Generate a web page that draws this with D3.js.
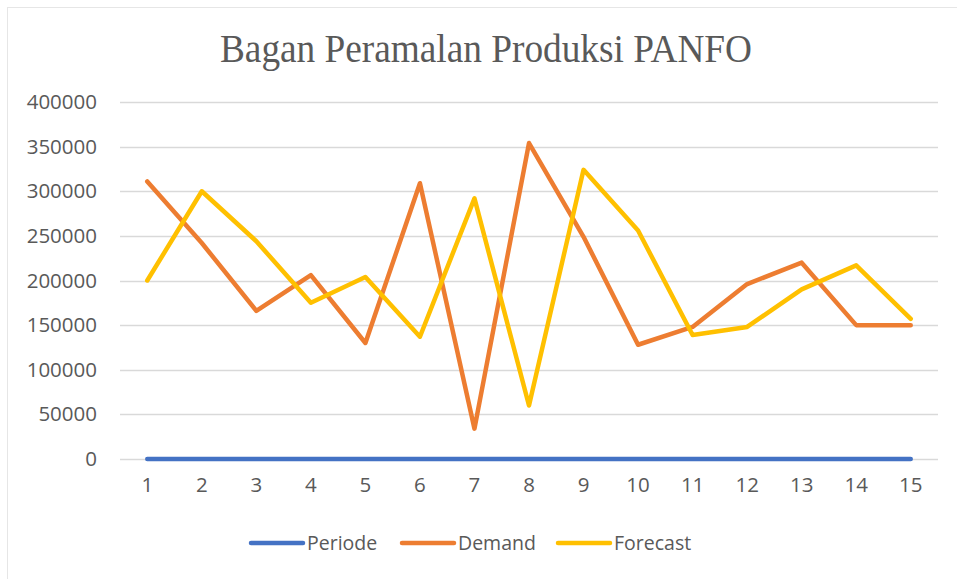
<!DOCTYPE html>
<html>
<head>
<meta charset="utf-8">
<script src="https://cdn.jsdelivr.net/npm/d3@7"></script>
<style>
  body { margin: 0; background: #fff; }
  text { fill: #595959; }
</style>
</head>
<body>
<div id="chart"></div>
<script>
// data
var periods = ["1", "2", "3", "4", "5", "6", "7", "8", "9", "10", "11", "12", "13", "14", "15"];
var periode = [1, 2, 3, 4, 5, 6, 7, 8, 9, 10, 11, 12, 13, 14, 15];
var demand = [311000, 242000, 166000, 206000, 130000, 309000, 34000, 354000, 249000, 128000, 148000, 196000, 220000, 150000, 150000];
var forecast = [200000, 300000, 244000, 175000, 204000, 137000, 292000, 60000, 324000, 256000, 139000, 148000, 190000, 217000, 157000];
var yTicks = [0, 50000, 100000, 150000, 200000, 250000, 300000, 350000, 400000];

var seriesNames = ["Periode", "Demand", "Forecast"];
var seriesColors = ["#4472C4", "#ED7D31", "#FFC000"];
var seriesValues = [periode, demand, forecast];

var svgWidth = 957;
var svgHeight = 579;

var margin = { top: 102, right: 19, bottom: 120, left: 120 };
var width = svgWidth - margin.left - margin.right;
var height = 459 - margin.top;

var svg = d3.select("#chart")
  .append("svg")
  .attr("width", svgWidth)
  .attr("height", svgHeight);

// chart area border
svg.append("rect")
  .attr("x", 7.5)
  .attr("y", 7.5)
  .attr("width", svgWidth + 20)
  .attr("height", svgHeight + 20)
  .attr("fill", "none")
  .attr("stroke", "#e6e6e6");

// title
svg.append("text")
  .attr("x", 486)
  .attr("y", 62)
  .attr("text-anchor", "middle")
  .attr("textLength", 532)
  .attr("lengthAdjust", "spacingAndGlyphs")
  .style("font-family", "'Liberation Serif', 'Times New Roman', serif")
  .style("font-size", "40px")
  .text("Bagan Peramalan Produksi PANFO");

var chartGroup = svg.append("g")
  .attr("transform", `translate(${margin.left}, ${margin.top})`);

// scales
var xScale = d3.scaleBand()
  .domain(periods)
  .range([0, width]);

var yScale = d3.scaleLinear()
  .domain([0, 400000])
  .range([height, 0]);

// gridlines
chartGroup.append("g")
  .selectAll("line")
  .data(yTicks)
  .enter()
  .append("line")
  .attr("x1", 0)
  .attr("x2", width)
  .attr("y1", d => Math.round(yScale(d)) + 0.5)
  .attr("y2", d => Math.round(yScale(d)) + 0.5)
  .attr("stroke", "#d9d9d9")
  .attr("stroke-width", 1.5);

// y axis labels
var leftAxis = d3.axisLeft(yScale).tickValues(yTicks).tickSize(0).tickPadding(23).tickFormat(d3.format("d"));
var yAxisG = chartGroup.append("g").call(leftAxis);
yAxisG.select(".domain").remove();
yAxisG.selectAll("text")
  .style("font-family", "'Open Sans', 'Noto Sans', sans-serif")
  .style("font-size", "20.5px")
  .attr("fill", "#595959");

// x axis labels
var bottomAxis = d3.axisBottom(xScale).tickSize(0).tickPadding(18);
var xAxisG = chartGroup.append("g")
  .attr("transform", `translate(0, ${height})`)
  .call(bottomAxis);
xAxisG.select(".domain").remove();
xAxisG.selectAll("text")
  .style("font-family", "'Open Sans', 'Noto Sans', sans-serif")
  .style("font-size", "20.5px")
  .attr("fill", "#595959");

// lines
var line = d3.line()
  .x((d, i) => xScale(periods[i]) + xScale.bandwidth() / 2)
  .y(d => yScale(d));

seriesValues.forEach(function(vals, k) {
  chartGroup.append("path")
    .datum(vals)
    .attr("d", line)
    .attr("fill", "none")
    .attr("stroke", seriesColors[k])
    .attr("stroke-width", 4.5)
    .attr("stroke-linejoin", "round")
    .attr("stroke-linecap", "round");
});

// legend
var legendX = [251, 402, 558];
var legendG = svg.append("g").attr("transform", "translate(0, 543)");
seriesNames.forEach(function(name, k) {
  legendG.append("line")
    .attr("x1", legendX[k])
    .attr("x2", legendX[k] + 52)
    .attr("y1", 0)
    .attr("y2", 0)
    .attr("stroke", seriesColors[k])
    .attr("stroke-width", 4.5)
    .attr("stroke-linecap", "round");
  legendG.append("text")
    .attr("x", legendX[k] + 56)
    .attr("y", 0)
    .attr("dy", "0.35em")
    .style("font-family", "'Open Sans', 'Noto Sans', sans-serif")
    .style("font-size", "19.5px")
    .text(name);
});
</script>
</body>
</html>
